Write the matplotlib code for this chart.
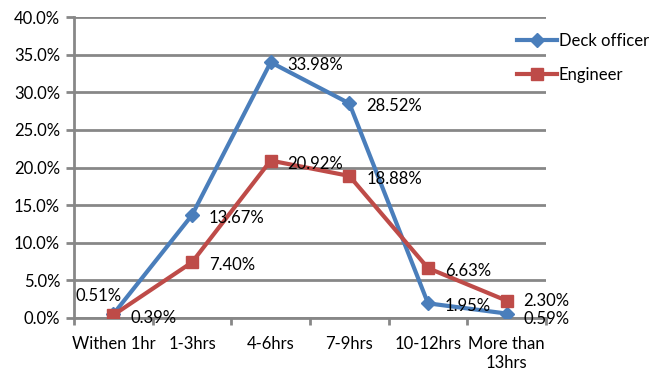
import matplotlib.pyplot as plt
import numpy as np

plt.rcParams['font.family'] = ['Lato', 'DejaVu Sans']

categories = ['Withen 1hr', '1-3hrs', '4-6hrs', '7-9hrs', '10-12hrs', 'More than\n13hrs']
deck = [0.51, 13.67, 33.98, 28.52, 1.95, 0.59]
engineer = [0.39, 7.40, 20.92, 18.88, 6.63, 2.30]

blue = '#4a7ebb'
red = '#be4b48'
grey = '#878787'
fs = 12

fig = plt.figure(figsize=(6.61, 3.74), dpi=100)
ax = fig.add_axes([74 / 661, 1 - 318 / 374, (546 - 74) / 661, (318 - 17) / 374])

x = np.arange(len(categories)) + 0.5
ax.plot(x, deck, color=blue, lw=3, marker='D', ms=7, label='Deck officer', zorder=3)
ax.plot(x, engineer, color=red, lw=3, marker='s', ms=8.5, label='Engineer', zorder=4)

# value labels, right of each point (first deck label sits up-left, last one nudged down)
for i, v in enumerate(deck):
    if i == 0:
        ax.annotate(f'{v:.2f}%', (x[i], v), xytext=(8, 18), textcoords='offset pixels',
                    ha='right', va='center', fontsize=fs, zorder=5)
    else:
        dy = -5 if i == len(deck) - 1 else -3
        ax.annotate(f'{v:.2f}%', (x[i], v), xytext=(17, dy), textcoords='offset pixels',
                    ha='left', va='center', fontsize=fs, zorder=5)
for i, v in enumerate(engineer):
    dy = 0 if i == len(engineer) - 1 else -3
    ax.annotate(f'{v:.2f}%', (x[i], v), xytext=(17, dy), textcoords='offset pixels',
                ha='left', va='center', fontsize=fs, zorder=5)

ax.set_xlim(0, 6)
ax.set_ylim(0, 40)
ax.set_yticks(np.arange(0, 41, 5))
ax.set_yticklabels([f'{t:.1f}%' for t in np.arange(0, 41, 5)], fontsize=fs)
ax.set_xticks(np.arange(0, 7))
ax.set_xticklabels([])
ax.set_xticks(x, minor=True)
ax.set_xticklabels(categories, minor=True, fontsize=fs, linespacing=1.25)
ax.tick_params(axis='x', which='minor', length=0, pad=13)
ax.tick_params(axis='x', which='major', length=5, width=2, color=grey)
ax.tick_params(axis='y', length=6, width=2, color=grey, pad=4)

ax.yaxis.grid(True, color=grey, lw=2)
ax.set_axisbelow(True)
for s in ['top', 'right']:
    ax.spines[s].set_visible(False)
for s in ['left', 'bottom']:
    ax.spines[s].set_color(grey)
    ax.spines[s].set_linewidth(2)

fig.legend(loc='upper left', bbox_to_anchor=(517 / 661, 1 - 33 / 374), frameon=False,
           fontsize=fs, handlelength=2.4, handletextpad=0.1, labelspacing=1.1, borderpad=0,
           borderaxespad=0)

fig.savefig('out.png', dpi=100)
